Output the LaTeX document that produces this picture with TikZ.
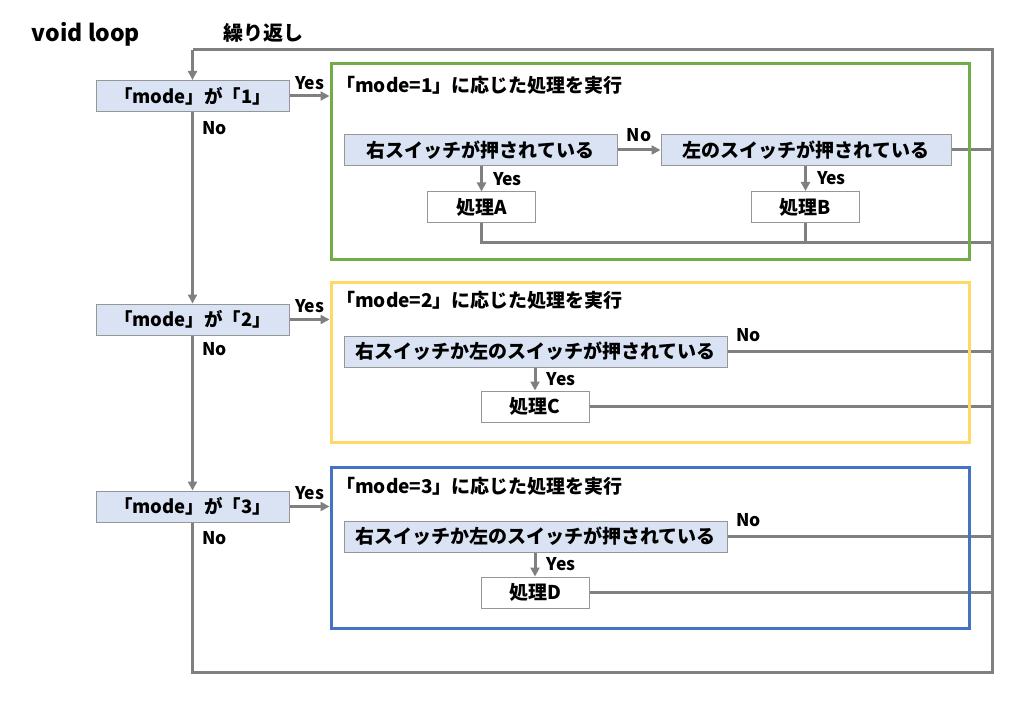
\documentclass[tikz,border=0pt]{standalone}
\usepackage{fontspec}
\setmainfont{Noto Sans CJK JP}
\usetikzlibrary{arrows.meta, positioning}
\definecolor{linegray}{RGB}{128,128,128}
\definecolor{boxgray}{RGB}{150,150,150}
\definecolor{condblue}{RGB}{218,227,243}
\definecolor{framegreen}{RGB}{112,173,71}
\definecolor{frameyellow}{RGB}{255,217,102}
\definecolor{frameblue}{RGB}{68,114,196}

\begin{document}
\begin{tikzpicture}[x=1pt, y=-1pt,
        cond/.style={rectangle, draw=boxgray, fill=condblue, line width=1pt, inner sep=0pt, minimum height=31pt, font=\fontsize{19}{21}\selectfont\bfseries},
        modebox/.style={cond, minimum width=193pt, font=\fontsize{18.5}{20}\selectfont\bfseries},
        task/.style={rectangle, draw=boxgray, fill=white, line width=1pt, inner sep=0pt, minimum width=108pt, minimum height=31pt, font=\fontsize{19}{21}\selectfont\bfseries},
        frame/.style={rectangle, line width=3pt, minimum width=638pt},
        title/.style={anchor=west, inner sep=0pt, font=\fontsize{19}{21}\selectfont\bfseries},
        yn/.style={inner sep=2pt, text=black, font=\fontsize{17.5}{19}\selectfont\bfseries},
        flow/.style={linegray, line width=3pt},
        arrow/.style={flow, -{Triangle[length=9pt, width=9pt]}}
        ]
        \useasboundingbox (0,0) rectangle (1024,703);

        % Labels
        \node (loopname) [font=\fontsize{23}{25}\selectfont\bfseries] at (86,34) {void loop};
        \node (repeat) [font=\fontsize{20}{22}\selectfont\bfseries] at (263,33) {繰り返し};

        % Mode checks
        \node (mode1) [modebox] at (192.5,96) {「mode」が「1」};
        \node (mode2) [modebox] at (192.5,319.5) {「mode」が「2」};
        \node (mode3) [modebox] at (192.5,506.5) {「mode」が「3」};

        % mode=1
        \node (right1) [cond, minimum width=273pt] at (480.5,150) {右スイッチが押されている};
        \node (left1) [cond, minimum width=290pt] at (806,150) {左のスイッチが押されている};
        \node (taskA) [task] at (481.5,207.5) {処理A};
        \node (taskB) [task] at (805.5,207) {処理B};

        % mode=2
        \node (either2) [cond, minimum width=383pt] at (535.5,351.5) {右スイッチか左のスイッチが押されている};
        \node (taskC) [task] at (535,406.5) {処理C};

        % mode=3
        \node (either3) [cond, minimum width=383pt] at (535.5,536.5) {右スイッチか左のスイッチが押されている};
        \node (taskD) [task] at (535,592.5) {処理D};

        % Loop corners
        \coordinate (loopbr) at (992,672);
        \coordinate (loopbl) at (192.5,672);
        \coordinate (looptl) at (192.5,50);
        \coordinate (join1) at (992,242);

        % Main flow
        \draw [arrow] (mode1) -- node[yn, pos=0.085, right=6pt] {No} (mode2);
        \draw [arrow] (mode2) -- node[yn, pos=0.085, right=6pt] {No} (mode3);
        \draw [flow] (mode3.south) -- node[yn, pos=0.105, right=6pt] {No} (loopbl) -- (loopbr) |- (looptl);
        \draw [arrow] (looptl) -- (mode1.north);

        % mode=1 arrows
        \draw [arrow] (right1) -- node[yn, above=5pt] {No} (left1);
        \draw [flow] (left1.east) -- (left1.east -| loopbr);
        \draw [arrow] (taskA.north |- right1.south) -- node[yn, right=8pt] {Yes} (taskA.north);
        \draw [arrow] (taskB.north |- left1.south) -- node[yn, right=8pt] {Yes} (taskB.north);
        \draw [flow] (taskA.south) |- (join1);
        \draw [flow] (taskB.south) -- (taskB.south |- join1);

        % mode=2 arrows
        \draw [flow] (either2.east) -- node[yn, above=6pt, pos=0.08] {No} (either2.east -| loopbr);
        \draw [arrow] (taskC.north |- either2.south) -- node[yn, right=8pt] {Yes} (taskC.north);
        \draw [flow] (taskC.east) -- (taskC.east -| loopbr);

        % mode=3 arrows
        \draw [flow] (either3.east) -- node[yn, above=6pt, pos=0.08] {No} (either3.east -| loopbr);
        \draw [arrow] (taskD.north |- either3.south) -- node[yn, right=8pt] {Yes} (taskD.north);
        \draw [flow] (taskD.east) -- (taskD.east -| loopbr);

        % Frames
        \node (frame1) [frame, draw=framegreen, minimum height=195pt] at (650,161.5) {};
        \node (frame2) [frame, draw=frameyellow, minimum height=160pt] at (650,362) {};
        \node (frame3) [frame, draw=frameblue, minimum height=161pt] at (650,547.5) {};
        \node (title1) [title] at (336,85) {「mode=1」に応じた処理を実行};
        \node (title2) [title] at (336,300) {「mode=2」に応じた処理を実行};
        \node (title3) [title] at (336,486) {「mode=3」に応じた処理を実行};

        % Yes to frames
        \draw [arrow] (mode1.east) -- node[yn, above=3pt] {Yes} (mode1.east -| frame1.west);
        \draw [arrow] (mode2.east) -- node[yn, above=3pt] {Yes} (mode2.east -| frame2.west);
        \draw [arrow] (mode3.east) -- node[yn, above=3pt] {Yes} (mode3.east -| frame3.west);

    \end{tikzpicture}
\end{document}
